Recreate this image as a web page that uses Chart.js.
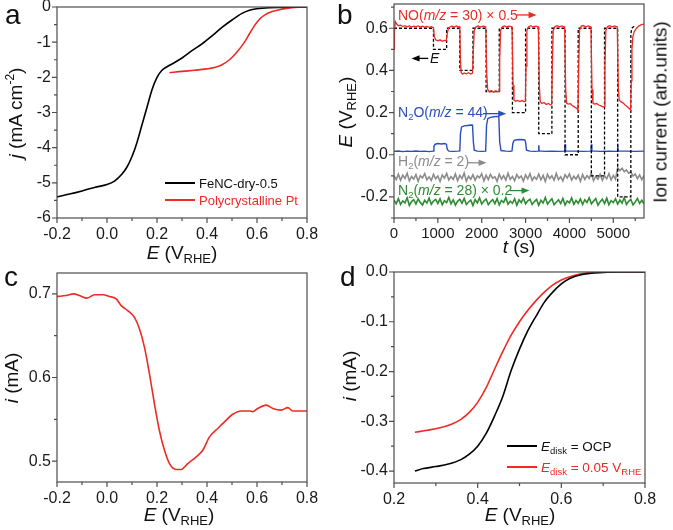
<!DOCTYPE html>
<html>
<head>
<meta charset="utf-8">
<script src="https://cdn.jsdelivr.net/npm/chart.js@4.4.1/dist/chart.umd.min.js"></script>
<style>
  body { margin:0; background:#fff; }
  #fig { position:relative; width:673px; height:530px; overflow:hidden; font-family:"Liberation Sans", Arial, sans-serif; color:#111; }
  #fig canvas { position:absolute; left:0; top:0; }
  .t { position:absolute; white-space:nowrap; line-height:1; }
  .cx { transform:translateX(-50%); }
  .rot { transform:translate(-50%,-50%) rotate(-90deg); }
  .sb { font-size:13px; position:relative; top:4px; }
  .sb2 { font-size:9.5px; position:relative; top:3px; }
  .sp { font-size:12px; position:relative; top:-8px; }
  .lg { position:absolute; height:0; border-top:2px solid; }
</style>
</head>
<body>
<div id="fig">
  <canvas id="ca" width="673" height="530"></canvas>
  <canvas id="cb" width="673" height="530"></canvas>
  <canvas id="cc" width="673" height="530"></canvas>
  <canvas id="cd" width="673" height="530"></canvas>

  <!-- a -->
  <div class="t" style="left:5px;top:1px;font-size:28px">a</div>
  <div class="t cx" style="left:182px;top:243px;font-size:19px"><i>E</i> (V<span class="sb">RHE</span>)</div>
  <div class="t rot" style="left:15px;top:113px;font-size:19px"><i>j</i> (mA cm<span class="sp">-2</span>)</div>
  <div class="lg" style="left:165px;top:182px;width:30px;border-color:#000"></div>
  <div class="t" style="left:199px;top:177px;font-size:13px">FeNC-dry-0.5</div>
  <div class="lg" style="left:165px;top:199px;width:30px;border-color:#ee2a24"></div>
  <div class="t" style="left:199px;top:194px;font-size:13px;color:#ee2a24">Polycrystalline Pt</div>

  <!-- b -->
  <div class="t" style="left:337px;top:1px;font-size:28px">b</div>
  <div class="t cx" style="left:519px;top:237px;font-size:19px"><i>t</i> (s)</div>
  <div class="t rot" style="left:345px;top:112px;font-size:19px"><i>E</i> (V<span class="sb">RHE</span>)</div>
  <div class="t rot" style="left:660px;top:112px;font-size:19px">Ion current (arb.units)</div>
  <div class="t" style="left:398px;top:8px;font-size:14px;color:#ee2a24">NO(<i>m/z</i> = 30) × 0.5</div>
  <div class="t" style="left:430px;top:51px;font-size:14px"><i>E</i></div>
  <div class="t" style="left:398px;top:105px;font-size:14px;color:#2a4dbd">N<span class="sb2">2</span>O(<i>m/z</i> = 44)</div>
  <div class="t" style="left:398px;top:154px;font-size:14px;color:#8c8c8c">H<span class="sb2">2</span>(<i>m/z</i> = 2)</div>
  <div class="t" style="left:398px;top:183px;font-size:14px;color:#2e8b34">N<span class="sb2">2</span>(<i>m/z</i> = 28) × 0.2</div>

  <!-- c -->
  <div class="t" style="left:4px;top:263px;font-size:28px">c</div>
  <div class="t cx" style="left:179px;top:505px;font-size:19px"><i>E</i> (V<span class="sb">RHE</span>)</div>
  <div class="t rot" style="left:11px;top:378px;font-size:19px"><i>i</i> (mA)</div>

  <!-- d -->
  <div class="t" style="left:340px;top:263px;font-size:28px">d</div>
  <div class="t cx" style="left:520px;top:505px;font-size:19px"><i>E</i> (V<span class="sb">RHE</span>)</div>
  <div class="t rot" style="left:349px;top:376px;font-size:19px"><i>i</i> (mA)</div>
  <div class="lg" style="left:507px;top:445px;width:30px;border-color:#000"></div>
  <div class="t" style="left:541px;top:440px;font-size:13.5px"><i>E</i><span class="sb2">disk</span> = OCP</div>
  <div class="lg" style="left:507px;top:466px;width:30px;border-color:#ee2a24"></div>
  <div class="t" style="left:541px;top:461px;font-size:13.5px;color:#ee2a24"><i>E</i><span class="sb2">disk</span> = 0.05 V<span class="sb2">RHE</span></div>
</div>

<script>
// ---- panel a : ORR polarisation curves
const aFeE = [-0.2,-0.15,-0.1,-0.05,0.0,0.03,0.06,0.08,0.10,0.12,0.14,0.16,0.18,0.20,0.22,0.24,0.26,0.30,0.34,0.38,0.42,0.46,0.50,0.54,0.57,0.60,0.65,0.70,0.75,0.80];
const aFeJ = [-5.40,-5.32,-5.23,-5.13,-5.05,-4.95,-4.75,-4.55,-4.25,-3.85,-3.35,-2.85,-2.35,-2.00,-1.80,-1.70,-1.62,-1.45,-1.24,-1.05,-0.82,-0.58,-0.37,-0.18,-0.09,-0.05,-0.02,-0.01,0,0];
const aPtE = [0.25,0.30,0.35,0.40,0.43,0.46,0.49,0.52,0.55,0.57,0.59,0.61,0.63,0.66,0.70,0.74,0.78,0.80];
const aPtJ = [-1.87,-1.83,-1.80,-1.76,-1.72,-1.64,-1.50,-1.28,-1.00,-0.76,-0.53,-0.35,-0.23,-0.13,-0.06,-0.02,0,0];
const aXTicks = [-0.2,0,0.2,0.4,0.6,0.8];
const aYTicks = [-6,-5,-4,-3,-2,-1,0];

// ---- panel b : potential steps + mass signals, [t, value]
const bStep = [[0,0.6],[900,0.6],[900,0.5],[1200,0.5],[1200,0.6],[1500,0.6],[1500,0.4],[1800,0.4],[1800,0.6],[2100,0.6],[2100,0.3],[2400,0.3],[2400,0.6],[2700,0.6],[2700,0.2],[3000,0.2],[3000,0.6],[3300,0.6],[3300,0.1],[3600,0.1],[3600,0.6],[3900,0.6],[3900,0.0],[4200,0.0],[4200,0.6],[4500,0.6],[4500,-0.1],[4800,-0.1],[4800,0.6],[5100,0.6],[5100,-0.2],[5400,-0.2],[5400,0.57],[5420,0.6],[5480,0.61]];
const bNO = [[0,0.50],[10,0.58],[30,0.632],[60,0.62],[100,0.612],[150,0.615],[200,0.608],[250,0.612],[300,0.607],[350,0.611],[400,0.606],[450,0.61],[500,0.607],[550,0.611],[600,0.606],[650,0.61],[700,0.605],[750,0.609],[800,0.604],[850,0.607],[900,0.603],
  [920,0.56],[950,0.545],[1000,0.54],[1050,0.545],[1100,0.538],[1150,0.542],[1190,0.54],[1210,0.57],[1240,0.6],[1280,0.607],
  [1320,0.61],[1370,0.606],[1420,0.611],[1470,0.607],[1500,0.608],
  [1515,0.45],[1530,0.39],[1560,0.382],[1600,0.388],[1650,0.384],[1700,0.389],[1750,0.383],[1790,0.387],[1810,0.5],[1830,0.59],[1870,0.607],
  [1920,0.611],[1970,0.606],[2030,0.61],[2090,0.607],
  [2115,0.38],[2135,0.31],[2170,0.298],[2220,0.304],[2270,0.297],[2320,0.303],[2370,0.298],[2395,0.302],[2410,0.45],[2430,0.59],[2470,0.607],
  [2520,0.611],[2570,0.606],[2630,0.61],[2690,0.607],
  [2715,0.33],[2735,0.26],[2770,0.254],[2820,0.258],[2870,0.252],[2920,0.257],[2970,0.251],[2995,0.255],[3010,0.42],[3030,0.59],[3070,0.607],
  [3120,0.612],[3170,0.606],[3230,0.61],[3290,0.607],
  [3315,0.32],[3335,0.25],[3370,0.243],[3420,0.248],[3470,0.238],[3520,0.243],[3570,0.236],[3595,0.24],[3610,0.42],[3630,0.59],[3670,0.608],
  [3720,0.612],[3770,0.607],[3830,0.611],[3890,0.606],
  [3915,0.31],[3935,0.245],[3970,0.24],[4020,0.242],[4070,0.233],[4120,0.226],[4170,0.22],[4195,0.21],[4210,0.4],[4230,0.59],[4270,0.61],
  [4320,0.613],[4370,0.607],[4430,0.611],[4490,0.606],
  [4515,0.31],[4535,0.245],[4570,0.24],[4620,0.243],[4670,0.236],[4720,0.232],[4770,0.226],[4795,0.228],[4810,0.42],[4830,0.59],[4870,0.608],
  [4920,0.612],[4970,0.607],[5030,0.611],[5090,0.606],
  [5115,0.32],[5135,0.26],[5170,0.252],[5220,0.246],[5270,0.236],[5320,0.228],[5370,0.218],[5395,0.212],
  [5410,0.35],[5425,0.5],[5445,0.56],[5480,0.585],[5530,0.6],[5580,0.61],[5640,0.617],[5700,0.62]];
const bN2O = [[0,0.016],[100,0.018],[200,0.015],[300,0.017],[400,0.016],[500,0.018],[600,0.016],[700,0.017],[800,0.015],[890,0.017],[910,0.04],[940,0.05],[1000,0.053],[1080,0.051],[1150,0.053],[1195,0.05],[1215,0.025],[1250,0.017],[1350,0.016],[1450,0.017],[1500,0.018],[1515,0.1],[1540,0.132],[1600,0.137],[1680,0.139],[1750,0.141],[1790,0.14],[1810,0.06],[1830,0.022],[1900,0.017],[2000,0.016],[2090,0.017],[2110,0.14],[2140,0.172],[2200,0.177],[2280,0.18],[2350,0.182],[2390,0.181],[2410,0.06],[2440,0.02],[2550,0.017],[2650,0.016],[2690,0.018],[2710,0.055],[2740,0.068],[2800,0.071],[2900,0.072],[2980,0.07],[3000,0.06],[3020,0.022],[3100,0.017],[3200,0.016],[3290,0.017],[3300,0.045],[3310,0.018],[3450,0.016],[3600,0.017],[3750,0.016],[3890,0.017],[3900,0.05],[3912,0.018],[4100,0.017],[4300,0.016],[4490,0.017],[4500,0.05],[4512,0.018],[4700,0.016],[4900,0.017],[5090,0.016],[5100,0.05],[5112,0.018],[5300,0.017],[5500,0.016],[5700,0.017]];
const bT = [0,50,100,150,200,250,300,350,400,450,
  500,550,600,650,700,750,800,850,900,950,
  1000,1050,1100,1150,1200,1250,1300,1350,1400,1450,
  1500,1550,1600,1650,1700,1750,1800,1850,1900,1950,
  2000,2050,2100,2150,2200,2250,2300,2350,2400,2450,
  2500,2550,2600,2650,2700,2750,2800,2850,2900,2950,
  3000,3050,3100,3150,3200,3250,3300,3350,3400,3450,
  3500,3550,3600,3650,3700,3750,3800,3850,3900,3950,
  4000,4050,4100,4150,4200,4250,4300,4350,4400,4450,
  4500,4550,4600,4650,4700,4750,4800,4850,4900,4950,
  5000,5050,5100,5150,5200,5250,5300,5350,5400,5450,
  5500,5550,5600,5650,5700];
const bH2 = [-0.100,-0.118,-0.092,-0.121,-0.097,-0.112,-0.088,-0.124,-0.103,-0.115,
  -0.094,-0.126,-0.099,-0.110,-0.090,-0.119,-0.105,-0.122,-0.093,-0.114,
  -0.101,-0.127,-0.096,-0.111,-0.089,-0.120,-0.104,-0.117,-0.091,-0.123,
  -0.098,-0.113,-0.087,-0.125,-0.102,-0.116,-0.095,-0.121,-0.100,-0.109,
  -0.090,-0.124,-0.097,-0.118,-0.093,-0.112,-0.104,-0.126,-0.092,-0.115,
  -0.099,-0.120,-0.088,-0.117,-0.103,-0.123,-0.094,-0.111,-0.101,-0.125,
  -0.096,-0.114,-0.090,-0.122,-0.105,-0.116,-0.092,-0.119,-0.098,-0.127,
  -0.093,-0.113,-0.100,-0.121,-0.089,-0.118,-0.104,-0.124,-0.095,-0.110,
  -0.091,-0.120,-0.102,-0.115,-0.097,-0.126,-0.094,-0.117,-0.099,-0.112,
  -0.088,-0.123,-0.103,-0.116,-0.093,-0.121,-0.100,-0.114,-0.090,-0.119,
  -0.098,-0.116,-0.062,-0.075,-0.064,-0.080,-0.072,-0.088,-0.082,-0.101,
  -0.092,-0.113,-0.096,-0.118,-0.099];
const bN2 = [-0.215,-0.232,-0.208,-0.236,-0.219,-0.228,-0.204,-0.240,-0.222,-0.213,
  -0.234,-0.210,-0.226,-0.238,-0.216,-0.229,-0.206,-0.235,-0.220,-0.212,
  -0.231,-0.209,-0.237,-0.218,-0.227,-0.203,-0.233,-0.214,-0.239,-0.221,
  -0.211,-0.230,-0.207,-0.236,-0.224,-0.215,-0.241,-0.212,-0.228,-0.205,
  -0.234,-0.219,-0.210,-0.237,-0.223,-0.213,-0.232,-0.208,-0.238,-0.217,
  -0.226,-0.204,-0.235,-0.220,-0.230,-0.209,-0.239,-0.214,-0.227,-0.206,
  -0.233,-0.218,-0.211,-0.236,-0.222,-0.212,-0.240,-0.216,-0.229,-0.203,
  -0.234,-0.221,-0.209,-0.237,-0.225,-0.214,-0.231,-0.207,-0.238,-0.219,
  -0.228,-0.205,-0.235,-0.217,-0.230,-0.210,-0.236,-0.213,-0.226,-0.204,
  -0.233,-0.220,-0.208,-0.239,-0.223,-0.211,-0.232,-0.206,-0.237,-0.218,
  -0.227,-0.209,-0.234,-0.215,-0.229,-0.203,-0.236,-0.221,-0.212,-0.238,
  -0.224,-0.207,-0.231,-0.216,-0.233];
const bXTicks = [0,1000,2000,3000,4000,5000];
const bYTicks = [-0.2,0,0.2,0.4,0.6];

// ---- panel c : ring current
const cE = [-0.2,-0.163,-0.134,-0.11,-0.08,-0.05,-0.017,0.01,0.037,0.057,0.083,0.11,0.13,0.15,0.17,0.19,0.21,0.23,0.25,0.277,0.297,0.323,0.357,0.383,0.41,0.443,0.477,0.503,0.537,0.57,0.583,0.603,0.637,0.663,0.697,0.723,0.743,0.8];
const cI = [0.697,0.698,0.700,0.698,0.695,0.699,0.699,0.697,0.694,0.686,0.680,0.672,0.658,0.636,0.604,0.568,0.536,0.513,0.497,0.490,0.490,0.497,0.505,0.513,0.529,0.539,0.549,0.556,0.560,0.560,0.559,0.563,0.567,0.563,0.561,0.564,0.560,0.560];
const cXTicks = [-0.2,0,0.2,0.4,0.6,0.8];
const cYTicks = [0.5,0.6,0.7];

// ---- panel d : disk currents
const dOcpE = [0.25,0.27,0.30,0.33,0.36,0.38,0.40,0.42,0.44,0.46,0.48,0.50,0.52,0.54,0.56,0.58,0.60,0.62,0.65,0.70,0.75,0.80];
const dOcpI = [-0.400,-0.395,-0.391,-0.386,-0.377,-0.366,-0.350,-0.325,-0.290,-0.250,-0.198,-0.155,-0.118,-0.088,-0.060,-0.040,-0.024,-0.013,-0.005,-0.001,0,0];
const d005E = [0.25,0.28,0.31,0.34,0.36,0.38,0.40,0.42,0.44,0.46,0.48,0.50,0.52,0.54,0.56,0.58,0.60,0.63,0.66,0.70,0.80];
const d005I = [-0.322,-0.318,-0.313,-0.305,-0.296,-0.282,-0.262,-0.233,-0.196,-0.160,-0.127,-0.100,-0.077,-0.057,-0.040,-0.026,-0.016,-0.007,-0.002,0,0];
const dXTicks = [0.2,0.4,0.6,0.8];
const dYTicks = [-0.4,-0.3,-0.2,-0.1,0];

const FONT = '"Liberation Sans", Arial, sans-serif';
const RED = '#ee2a24', BLUE = '#2a4dbd', GREY = '#8c8c8c', GREEN = '#2e8b34';

const xy = (xs, ys) => xs.map((x, i) => ({x: x, y: ys[i]}));
const pairs = p => p.map(q => ({x: q[0], y: q[1]}));
const f1 = v => (Math.abs(v) < 1e-9 ? 0 : v).toFixed(1);
const f0 = v => String(Math.round(v));

function line(data, color, w, extra) {
  return Object.assign({data: data, borderColor: color, borderWidth: w, showLine: true, pointRadius: 0, fill: false}, extra || {});
}

// box around the plot + outward major/minor ticks
const framePlugin = {
  id: 'frame',
  afterDraw(chart) {
    const ctx = chart.ctx, a = chart.chartArea;
    ctx.save();
    ctx.strokeStyle = '#4d4d4d';
    ctx.lineWidth = 1.2;
    ctx.strokeRect(a.left, a.top, a.right - a.left, a.bottom - a.top);
    ['x', 'y'].forEach(id => {
      const s = chart.scales[id];
      const step = s.options.ticks.stepSize;
      const major = s.ticks.map(t => t.value);
      const minor = [];
      major.forEach(v => [v - step / 2, v + step / 2].forEach(m => {
        if (m >= s.min - 1e-9 && m <= s.max + 1e-9 && !minor.some(o => Math.abs(o - m) < 1e-9)) minor.push(m);
      }));
      ctx.beginPath();
      const mk = (v, len) => {
        const p = s.getPixelForValue(v);
        if (id === 'x') { ctx.moveTo(p, a.bottom); ctx.lineTo(p, a.bottom + len); }
        else { ctx.moveTo(a.left, p); ctx.lineTo(a.left - len, p); }
      };
      major.forEach(v => mk(v, 5));
      minor.forEach(v => mk(v, 3));
      ctx.stroke();
    });
    ctx.restore();
  }
};

// label arrows in panel b, placed in data units
const arrowPlugin = {
  id: 'arrows',
  afterDatasetsDraw(chart, args, opts) {
    if (!opts || !opts.items) return;
    const ctx = chart.ctx, x = chart.scales.x, y = chart.scales.y;
    opts.items.forEach(it => {
      const x0 = x.getPixelForValue(it.from), x1 = x.getPixelForValue(it.to), py = y.getPixelForValue(it.at);
      const dir = Math.sign(x1 - x0);
      ctx.save();
      ctx.strokeStyle = ctx.fillStyle = it.color;
      ctx.lineWidth = 1.3;
      ctx.beginPath(); ctx.moveTo(x0, py); ctx.lineTo(x1 - dir * 6, py); ctx.stroke();
      ctx.beginPath(); ctx.moveTo(x1, py); ctx.lineTo(x1 - dir * 8, py - 3.2); ctx.lineTo(x1 - dir * 8, py + 3.2); ctx.closePath(); ctx.fill();
      ctx.restore();
    });
  }
};

function axis(o, size, which) {
  return {
    type: 'linear', min: o.min, max: o.max,
    grid: { display: false, drawTicks: false },
    border: { display: false },
    ticks: { stepSize: o.step, autoSkip: false, includeBounds: false, padding: o.pad, maxRotation: 0,
             color: '#1a1a1a', font: { family: FONT, size: o.size || 16 }, callback: o.fmt },
    afterBuildTicks(s) { s.ticks = o.ticks.map(v => ({value: v})); },
    afterFit(s) {
      if (which === 'x') s.height = size; else s.width = size;
      s.paddingLeft = s.paddingRight = s.paddingTop = s.paddingBottom = 0;
    }
  };
}

function makeChart(id, box, datasets, sx, sy, arrows) {
  return new Chart(document.getElementById(id), {
    type: 'scatter',
    data: { datasets: datasets },
    plugins: [framePlugin, arrowPlugin],
    options: {
      responsive: false, animation: false, devicePixelRatio: 1,
      layout: { padding: { left: box.l - 60, top: box.t, right: 673 - box.r, bottom: 530 - box.b - 40 } },
      plugins: { legend: { display: false }, tooltip: { enabled: false }, arrows: arrows || {} },
      scales: { x: axis(sx, 40, 'x'), y: axis(sy, 60, 'y') }
    }
  });
}

const smooth = { cubicInterpolationMode: 'monotone' };

makeChart('ca', {l: 57, t: 7, r: 307, b: 218},
  [line(xy(aFeE, aFeJ), '#000', 1.6, smooth), line(xy(aPtE, aPtJ), RED, 1.6, smooth)],
  {min: -0.2, max: 0.8, step: 0.2, ticks: aXTicks, pad: 7, fmt: f1},
  {min: -6, max: 0, step: 1, ticks: aYTicks, pad: 6, fmt: f0});

makeChart('cb', {l: 394, t: 4, r: 644, b: 218},
  [line(pairs(bNO), RED, 1.3),
   line(pairs(bStep), '#000', 1.3, { borderDash: [3, 2] }),
   line(pairs(bN2O), BLUE, 1.4),
   line(xy(bT, bH2), GREY, 1.6),
   line(xy(bT, bN2), GREEN, 1.6)],
  {min: 0, max: 5700, step: 1000, ticks: bXTicks, pad: 7, size: 15, fmt: f0},
  {min: -0.30, max: 0.715, step: 0.2, ticks: bYTicks, pad: 6, fmt: f1},
  { items: [
    {from: 2800, to: 3250, at: 0.663, color: RED},
    {from: 780, to: 400, at: 0.457, color: '#000'},
    {from: 2030, to: 2560, at: 0.195, color: BLUE},
    {from: 1690, to: 2110, at: -0.038, color: GREY},
    {from: 2640, to: 3090, at: -0.17, color: GREEN}
  ] });

makeChart('cc', {l: 57, t: 273, r: 307, b: 482},
  [line(xy(cE, cI), RED, 1.6, smooth)],
  {min: -0.2, max: 0.8, step: 0.2, ticks: cXTicks, pad: 7, fmt: f1},
  {min: 0.475, max: 0.725, step: 0.1, ticks: cYTicks, pad: 6, fmt: f1});

makeChart('cd', {l: 394, t: 272, r: 645, b: 483},
  [line(xy(dOcpE, dOcpI), '#000', 1.6, smooth), line(xy(d005E, d005I), RED, 1.6, smooth)],
  {min: 0.2, max: 0.8, step: 0.2, ticks: dXTicks, pad: 7, fmt: f1},
  {min: -0.424, max: 0, step: 0.1, ticks: dYTicks, pad: 6, fmt: f1});
</script>
</body>
</html>
